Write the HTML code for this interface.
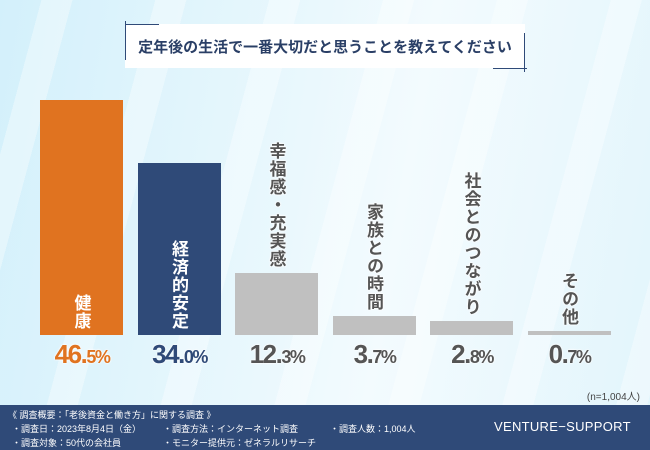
<!DOCTYPE html>
<html><head><meta charset="utf-8"><style>
*{margin:0;padding:0;box-sizing:border-box}
body{width:650px;height:450px;overflow:hidden;font-family:"Liberation Sans","Noto Sans CJK JP",sans-serif;position:relative;
background:linear-gradient(100deg,#d3f0fb 0%,#eaf8fd 45%,#f3fbfe 60%,#e2f5fc 100%);}
.stripes{position:absolute;inset:0;background:repeating-linear-gradient(105deg,rgba(255,255,255,0) 0 40px,rgba(255,255,255,.35) 40px 70px,rgba(255,255,255,0) 70px 110px)}
#title{position:absolute;left:125px;top:24px;width:400px;height:44px;background:#fff;color:#2a3f66;font-size:15px;font-weight:bold;display:flex;align-items:center;justify-content:center}
.ln{position:absolute;background:#2f4a78}
.lbl{position:absolute;writing-mode:vertical-rl;font-weight:bold;font-size:17px;letter-spacing:1px;line-height:1}
.pct{position:absolute;top:339px;font-weight:bold;font-size:26px;text-align:center;width:97px;letter-spacing:-1.5px;text-shadow:0 0 2px #fff,0 0 2px #fff}
.pct small{font-size:18px}
#footer{position:absolute;left:0;top:405px;width:650px;height:45px;background:#2f4a78;color:#fff;font-size:9px}
#footer div{position:absolute;white-space:nowrap}
</style></head><body>
<div class="stripes"></div>
<div id="title">定年後の生活で一番大切だと思うことを教えてください</div>
<div class="ln" style="left:125px;top:24px;width:34px;height:1px"></div>
<div class="ln" style="left:125px;top:21px;width:1px;height:39px"></div>
<div class="ln" style="left:493px;top:68px;width:34px;height:1px"></div>
<div class="ln" style="left:524px;top:33px;width:1px;height:39px"></div>
<div id="chart"></div>
<div style="position:absolute;right:10px;top:388px;font-size:10px;color:#444">(n=1,004人)</div>
<div id="footer">
<div style="left:8px;top:3px">《 調査概要：「老後資金と働き方」に関する調査 》</div>
<div style="left:12px;top:17px">・調査日：2023年8月4日（金）</div>
<div style="left:12px;top:31px">・調査対象：50代の会社員</div>
<div style="left:163px;top:17px">・調査方法：インターネット調査</div>
<div style="left:163px;top:31px">・モニター提供元：ゼネラルリサーチ</div>
<div style="left:330px;top:17px">・調査人数：1,004人</div>
<div style="left:494px;top:14px;font-size:13px;letter-spacing:.3px">VENTURE−SUPPORT</div>
</div>
<script>
const categories=["健康","経済的安定","幸福感・充実感","家族との時間","社会とのつながり","その他"];
const values=[46.5,34.0,12.3,3.7,2.8,0.7];
const colors=["#e07320","#2f4a78","#c0c0c0","#c0c0c0","#c0c0c0","#c0c0c0"];
const textColors=["#e07320","#2f4a78","#555","#555","#555","#555"];
const baseY=335,scale=5.05,x0=40,step=97.5,bw=83;
const yPos=v=>baseY-v*scale;
const xPos=i=>x0+i*step;
const chart=document.getElementById('chart');
categories.forEach((c,i)=>{
 const b=document.createElement('div');
 
 
 const t=yPos(values[i]);
 b.style.cssText=`position:absolute;left:${xPos(i)}px;top:${t}px;width:${bw}px;height:${baseY-t}px;background:${colors[i]}`;
 chart.appendChild(b);
 const l=document.createElement('div');
 
 
 l.className='lbl';l.textContent=c;
 const len=c.length*18;
 const inside=i<2;
 const bottom=inside?baseY-5:t-5;
 l.style.left=(xPos(i)+bw/2-9)+'px';
 l.style.top=(bottom-len)+'px';
 l.style.color=inside?'#fff':'#555';
 if(!inside)l.style.textShadow='0 0 2px #fff,0 0 2px #fff,0 0 2px #fff';
 chart.appendChild(l);
 const p=document.createElement('div');
 
 
 p.className='pct';
 const s=values[i].toFixed(1).split('.');
 p.innerHTML=s[0]+'.<small>'+s[1]+'%</small>';
 p.style.left=(xPos(i)+bw/2-48)+'px';
 p.style.color=textColors[i];
 chart.appendChild(p);
});
</script>
</body></html>
